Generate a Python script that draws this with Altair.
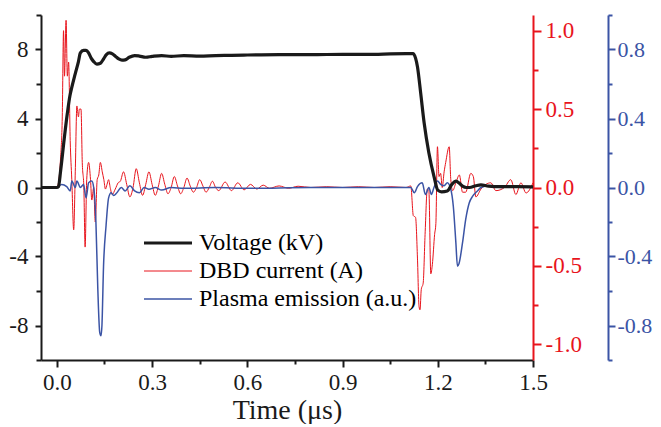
import altair as alt
import pandas as pd

# ---------------- data ----------------
volt_t = [-0.05, 0.0, 0.005, 0.012, 0.023, 0.033, 0.041, 0.047, 0.058, 0.068, 0.074, 0.084,
          0.092, 0.1, 0.108, 0.116, 0.126, 0.137, 0.147, 0.156, 0.165, 0.175, 0.185, 0.195,
          0.205, 0.215, 0.228, 0.245, 0.26, 0.28, 0.3, 0.33, 0.36, 0.4, 0.45, 0.5, 0.55, 0.6,
          0.7, 0.8, 0.9, 1.0, 1.05, 1.1, 1.122, 1.13, 1.136, 1.146, 1.157, 1.172, 1.188, 1.2,
          1.212, 1.23, 1.245, 1.257, 1.268, 1.278, 1.29, 1.3, 1.32, 1.336, 1.36, 1.4, 1.45, 1.5]
volt_v = [0.0, 0.0, 0.05, 1.0, 2.8, 4.3, 5.3, 5.8, 6.6, 7.3, 7.8, 7.95,
          7.95, 7.8, 7.5, 7.3, 7.15, 7.2, 7.45, 7.7, 7.8, 7.75, 7.6, 7.45,
          7.38, 7.4, 7.55, 7.65, 7.62, 7.55, 7.6, 7.65, 7.6, 7.65, 7.62, 7.65, 7.66, 7.68,
          7.7, 7.7, 7.72, 7.72, 7.75, 7.76, 7.76, 7.5, 7.0, 5.5, 3.75, 2.0, 0.65, -0.15,
          -0.25, -0.2, 0.2, 0.37, 0.25, 0.08, 0.0, 0.0, 0.1, 0.15, 0.08, 0.05, 0.05, 0.04]

cur_t = [-0.05, -0.01, 0.0, 0.005, 0.012, 0.017, 0.021, 0.024, 0.029, 0.033, 0.037, 0.042,
         0.047, 0.053, 0.058, 0.063, 0.068, 0.071, 0.076, 0.08, 0.085, 0.089, 0.094, 0.1,
         0.106, 0.11, 0.116, 0.121, 0.127, 0.132, 0.137, 0.143, 0.148, 0.153, 0.158, 0.163,
         0.168, 0.174, 0.184, 0.193, 0.2, 0.21, 0.22, 0.23, 0.24, 0.25, 0.26, 0.27, 0.28,
         0.29, 0.3, 0.31, 0.32, 0.33, 0.34, 0.35, 0.36, 0.37, 0.38, 0.39, 0.4, 0.41, 0.42,
         0.43, 0.44, 0.45, 0.46, 0.47, 0.48, 0.49, 0.5, 0.51, 0.53, 0.55, 0.57, 0.59, 0.61,
         0.63, 0.65, 0.67, 0.7, 0.73, 0.76, 0.8, 0.85, 0.9, 0.95, 1.0, 1.05, 1.1, 1.115,
         1.123, 1.13, 1.136, 1.141, 1.144, 1.148, 1.154, 1.16, 1.167, 1.172, 1.178, 1.183,
         1.19, 1.194, 1.199, 1.204, 1.209, 1.214, 1.22, 1.225, 1.236, 1.241, 1.247, 1.257,
         1.268, 1.278, 1.288, 1.304, 1.312, 1.32, 1.336, 1.367, 1.383, 1.41, 1.43, 1.446,
         1.462, 1.478, 1.5]
cur_v = [0.0, 0.005, 0.0, 0.03, 0.2, 0.45, 1.0, 0.71, 1.066, 0.71, 0.8, 0.3,
         0.05, -0.27, 0.1, 0.52, 0.45, 0.5, 0.5, 0.16, 0.0, -0.38, 0.05, 0.16,
         0.05, -0.08, 0.0, -0.22, 0.05, 0.08, 0.16, 0.1, 0.05, -0.01, 0.02, 0.05,
         0.0, -0.045, -0.01, 0.03, 0.04, 0.1, 0.02, -0.06, 0.0, 0.12, 0.03, -0.05, 0.02,
         0.1, 0.02, -0.05, 0.01, 0.09, 0.02, -0.04, 0.0, 0.07, 0.01, -0.04, 0.0, 0.06, 0.01,
         -0.03, 0.0, 0.05, 0.01, -0.03, 0.0, 0.04, 0.0, -0.02, 0.035, -0.02, 0.03, -0.015, 0.02,
         -0.01, 0.015, -0.005, 0.01, -0.005, 0.008, 0.0, 0.005, 0.0, 0.005, 0.0, 0.005, 0.0, 0.01,
         -0.18, -0.19, -0.45, -0.76, -0.78, -0.65, -0.61, -0.3, -0.01, -0.02, -0.55, -0.49,
         -0.3, -0.23, 0.26, 0.07, 0.09, 0.0, 0.1, 0.16, 0.26, 0.05, -0.02, 0.03,
         0.08, -0.03, -0.03, 0.09, 0.07, -0.06, -0.01, 0.03, -0.02, 0.0, 0.05, -0.045,
         0.03, -0.035, 0.03]

em_t = [-0.05, 0.0, 0.015, 0.031, 0.042, 0.047, 0.058, 0.063, 0.074, 0.084, 0.092, 0.1,
        0.11, 0.116, 0.123, 0.129, 0.135, 0.139, 0.142, 0.147, 0.155, 0.163, 0.171, 0.179,
        0.189, 0.203, 0.215, 0.23, 0.245, 0.26, 0.275, 0.29, 0.31, 0.33, 0.36, 0.4, 0.5,
        0.6, 0.8, 1.0, 1.1, 1.115, 1.126, 1.136, 1.151, 1.161, 1.172, 1.18, 1.188, 1.199,
        1.21, 1.22, 1.23, 1.241, 1.249, 1.257, 1.262, 1.267, 1.278, 1.288, 1.299, 1.31,
        1.325, 1.336, 1.36, 1.4, 1.45, 1.5]
em_v = [0.0, 0.0, 0.017, 0.005, -0.02, 0.037, 0.0, 0.037, 0.0, 0.017, -0.06, 0.027,
        0.037, 0.0, -0.2, -0.59, -0.84, -0.86, -0.8, -0.456, -0.22, -0.06, -0.03, -0.046,
        -0.03, 0.0, -0.02, 0.01, -0.02, -0.03, 0.0, -0.01, 0.0, -0.015, 0.0, -0.005, 0.0,
        -0.005, 0.0, 0.0, 0.0, 0.0, -0.03, 0.005, 0.027, -0.04, 0.0, -0.04, 0.0, 0.037,
        0.017, 0.01, 0.027, -0.01, -0.11, -0.32, -0.456, -0.44, -0.32, -0.185, -0.09, -0.05,
        -0.02, 0.0, 0.01, 0.0, 0.005, 0.0]

series_names = ["Voltage (kV)", "DBD current (A)", "Plasma emission (a.u.)"]
series_colors = ["#1a1a1a", "#e8141c", "#3b54a5"]
series_widths = [3.2, 1.0, 1.5]

x_ticks = [0.0, 0.15, 0.3, 0.45, 0.6, 0.75, 0.9, 1.05, 1.2, 1.35, 1.5]
left_ticks = [-10, -8, -6, -4, -2, 0, 2, 4, 6, 8, 10]
red_ticks = [-1.0, -0.75, -0.5, -0.25, 0.0, 0.25, 0.5, 0.75, 1.0]
blue_ticks = [-1.0, -0.8, -0.6, -0.4, -0.2, 0.0, 0.2, 0.4, 0.6, 0.8, 1.0]

# ---------------- chart ----------------
FONT = "Liberation Serif"
RED = series_colors[1]
BLUE = series_colors[2]

df_v = pd.DataFrame({"t": volt_t, "y": volt_v, "series": series_names[0]})
df_c = pd.DataFrame({"t": cur_t, "y": cur_v, "series": series_names[1]})
df_e = pd.DataFrame({"t": em_t, "y": em_v, "series": series_names[2]})


def major(step):
    return f"abs(datum.value/{step} - round(datum.value/{step})) < 0.01"


def tick_size(step, big, small):
    return {"condition": {"test": major(step), "value": big}, "value": small}


def label_expr(step):
    return f"{major(step)} ? replace(datum.label, '\u2212', '-') : ''"


x_enc = alt.X(
    "t:Q",
    scale=alt.Scale(domain=[-0.05, 1.5], nice=False, zero=False),
    axis=alt.Axis(values=x_ticks, title="Time (\u03bcs)", format=".1f",
                  labelExpr=label_expr(0.3), tickSize=tick_size(0.3, 7, 4),
                  labelPadding=4, titlePadding=2, titleFontSize=28, labelFlush=False),
)

legend = alt.Legend(title=None, orient="none", legendX=101, legendY=214,
                    symbolType="stroke", symbolSize=2304, clipHeight=28, labelFontSize=24,
                    labelFont=FONT, labelLimit=0, rowPadding=0, labelOffset=5, padding=0)
color_enc = alt.Color("series:N", scale=alt.Scale(domain=series_names, range=series_colors),
                      legend=legend)
width_enc = alt.StrokeWidth("series:N",
                            scale=alt.Scale(type="ordinal", domain=series_names, range=series_widths),
                            legend=legend)

cur_layer = alt.Chart(df_c).mark_line(strokeJoin="round", interpolate="monotone").encode(
    x=x_enc,
    y=alt.Y("y:Q", scale=alt.Scale(domain=[-1.1, 1.1], nice=False, zero=False),
            axis=alt.Axis(orient="right", values=red_ticks, title=None, format=".1f",
                          labelExpr=label_expr(0.5), tickSize=tick_size(0.5, 8, 5),
                          domainColor=RED, tickColor=RED, labelColor=RED, labelPadding=4)),
    color=color_enc, strokeWidth=width_enc,
)

em_layer = alt.Chart(df_e).mark_line(strokeJoin="round", interpolate="monotone").encode(
    x=x_enc,
    y=alt.Y("y:Q", scale=alt.Scale(domain=[-1.0, 1.0], nice=False, zero=False),
            axis=alt.Axis(orient="right", offset=75, values=blue_ticks, title=None, format=".1f",
                          labelExpr=label_expr(0.4), tickSize=tick_size(0.4, 7, 4),
                          domainColor=BLUE, tickColor=BLUE, labelColor=BLUE, labelPadding=2,
                          labelFontSize=22)),
    color=color_enc, strokeWidth=width_enc,
)

volt_layer = alt.Chart(df_v).mark_line(strokeJoin="round", interpolate="monotone").encode(
    x=x_enc,
    y=alt.Y("y:Q", scale=alt.Scale(domain=[-10, 10], nice=False, zero=False),
            axis=alt.Axis(orient="left", values=left_ticks, title=None, format="d",
                          labelExpr=label_expr(4), tickSize=tick_size(4, 6, 5),
                          labelPadding=7)),
    color=color_enc, strokeWidth=width_enc,
)

chart = (
    alt.layer(cur_layer, em_layer, volt_layer)
    .resolve_scale(y="independent")
    .properties(width=492, height=345,
                autosize=alt.AutoSizeParams(type="none"),
                padding={"left": 33, "top": 7, "right": 120, "bottom": 64})
    .configure_view(stroke=None)
    .configure_axis(labelFont=FONT, titleFont=FONT, labelFontSize=23, titleFontSize=28,
                    titleFontWeight="normal", labelColor="#1a1a1a", titleColor="#1a1a1a",
                    domainColor="#1a1a1a", tickColor="#1a1a1a", domainWidth=2, tickWidth=2,
                    grid=False)
)

chart.save("out.html", embed_options={"renderer": "svg", "actions": False})
